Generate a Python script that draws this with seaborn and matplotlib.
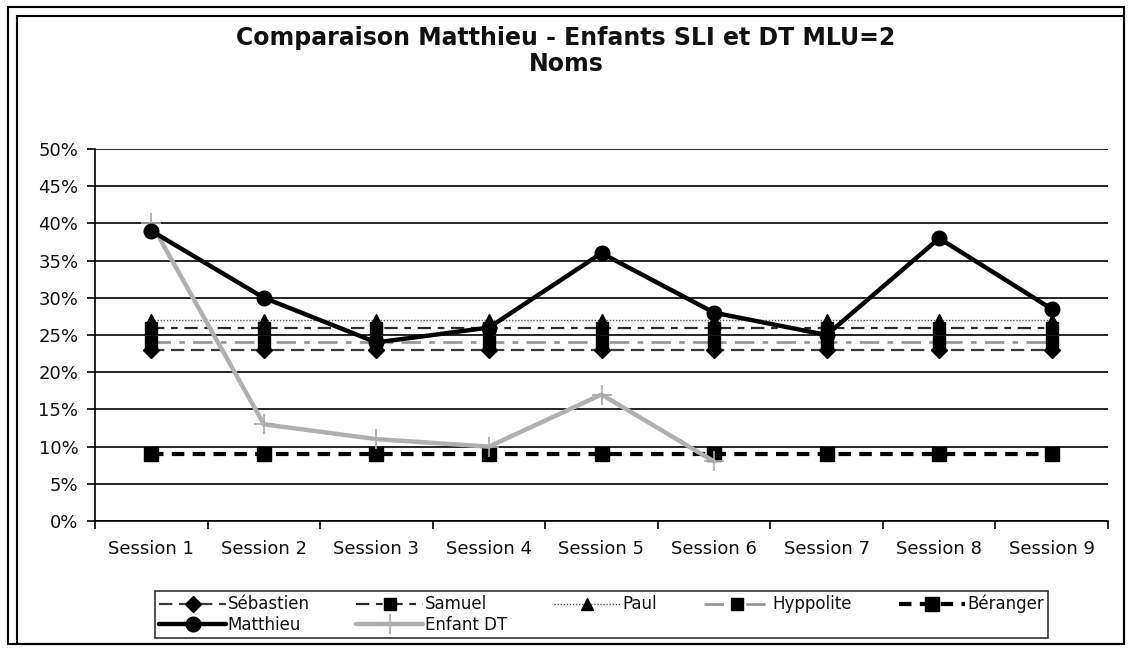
import numpy as np
import pandas as pd
import matplotlib
matplotlib.use("Agg")
import matplotlib.pyplot as plt
import seaborn as sns
from matplotlib.patches import Rectangle
from matplotlib.ticker import FixedLocator, PercentFormatter

sessions = ["Session 1", "Session 2", "Session 3", "Session 4", "Session 5",
            "Session 6", "Session 7", "Session 8", "Session 9"]
sebastien = [23, 23, 23, 23, 23, 23, 23, 23, 23]
samuel = [26, 26, 26, 26, 26, 26, 26, 26, 26]
paul = [27, 27, 27, 27, 27, 27, 27, 27, 27]
hyppolite = [24, 24, 24, 24, 24, 24, 24, 24, 24]
beranger = [9, 9, 9, 9, 9, 9, 9, 9, 9]
matthieu = [39, 30, 24, 26, 36, 28, 25, 38, 28.5]
enfant_dt = [40, 13, 11, 10, 17, 8, np.nan, np.nan, np.nan]
yticks = [0, 5, 10, 15, 20, 25, 30, 35, 40, 45, 50]

sns.set_theme(style="white")
plt.rcParams["font.family"] = ["DejaVu Sans"]

fig = plt.figure(figsize=(11.29, 6.48), dpi=100)
ax = fig.add_axes([95 / 1129, 1 - 521 / 648, (1108 - 95) / 1129, (521 - 149) / 648])

series = [
    ("Sébastien", sebastien, dict(color="#3a3a3a", lw=1.6, dashes=(6, 3), marker="D", ms=8,
                                  mfc="black", mec="black")),
    ("Matthieu", matthieu, dict(color="black", lw=3.2, marker="o", ms=10.5, mfc="black",
                                mec="black", dashes=(None, None))),
    ("Samuel", samuel, dict(color="#2a2a2a", lw=1.6, dashes=(6, 3, 3, 3), marker="s", ms=8,
                            mfc="black", mec="black")),
    ("Enfant DT", enfant_dt, dict(color="#b0b0b0", lw=3.2, marker="+", ms=14, mew=1.2,
                                  mfc="#aaaaaa", mec="#aaaaaa")),
    ("Paul", paul, dict(color="#555555", lw=1.0, dashes=(1, 1.2), marker="^", ms=9,
                        mfc="black", mec="black")),
    ("Hyppolite", hyppolite, dict(color="#999999", lw=2.0, dashes=(7, 3, 2, 3), marker="s",
                                  ms=8, mfc="black", mec="black")),
    ("Béranger", beranger, dict(color="black", lw=3.0, dashes=(3, 2), marker="s", ms=10,
                                mfc="black", mec="black")),
]

order_draw = ["Sébastien", "Samuel", "Paul", "Hyppolite", "Béranger", "Enfant DT", "Matthieu"]
handles = {}
for name in order_draw:
    vals, kw = [(v, k) for n, v, k in series if n == name][0]
    df = pd.DataFrame({"session": sessions, "val": vals}).dropna()
    kw = dict(kw)
    dashes = kw.pop("dashes", None)
    sns.lineplot(data=df, x="session", y="val", ax=ax, sort=False, label=name,
                 markeredgewidth=kw.pop("mew", 1.0), **kw)
    line = ax.get_lines()[-1]
    if dashes is not None and dashes[0] is not None:
        line.set_dashes(dashes)
    handles[name] = line

ax.set_xlim(-0.5, 8.5)
ax.set_ylim(0, 50)
ax.set_yticks(yticks)
ax.yaxis.set_major_formatter(PercentFormatter(decimals=0))
ax.grid(axis="y", color="black", lw=1.2)
ax.set_axisbelow(True)
ax.set_xlabel("")
ax.set_ylabel("")
for s in ["top", "right"]:
    ax.spines[s].set_visible(False)
for s in ["left", "bottom"]:
    ax.spines[s].set_color("black")
    ax.spines[s].set_linewidth(1.2)
ax.tick_params(axis="y", which="major", length=6, width=1.2, color="black", direction="out",
               left=True, labelsize=13, pad=6, labelcolor="#111111")
ax.tick_params(axis="x", which="major", length=0, labelsize=13, pad=14, labelcolor="#111111")
ax.xaxis.set_minor_locator(FixedLocator(np.arange(-0.5, 9.0, 1.0)))
ax.tick_params(axis="x", which="minor", length=6, width=1.2, color="black", direction="out",
               bottom=True)

if ax.legend_:
    ax.legend_.remove()
leg_order = ["Sébastien", "Matthieu", "Samuel", "Enfant DT", "Paul", "Hyppolite", "Béranger"]
leg = fig.legend([handles[n] for n in leg_order], leg_order, ncol=5,
                 loc="lower left", bbox_to_anchor=(155 / 1129, 1 - 638 / 648, (1048 - 155) / 1129, 50 / 648),
                 mode="expand", frameon=True, fancybox=False, fontsize=12, handlelength=4,
                 borderpad=0.25, labelspacing=0.15, handletextpad=0.1, borderaxespad=0)
leg.get_frame().set_edgecolor("black")
leg.get_frame().set_linewidth(1.2)
for t in leg.get_texts():
    t.set_color("#111111")

fig.text(566 / 1129, 1 - 38 / 648, "Comparaison Matthieu - Enfants SLI et DT MLU=2",
         ha="center", va="center", fontsize=17, fontweight="bold", color="#111111")
fig.text(566 / 1129, 1 - 64 / 648, "Noms", ha="center", va="center", fontsize=17,
         fontweight="bold", color="#111111")

fig.patches.append(Rectangle((8 / 1129, 1 - 644 / 648), (1124 - 8) / 1129, (644 - 7) / 648,
                             transform=fig.transFigure, fill=False, ec="black", lw=1.5))
fig.patches.append(Rectangle((17 / 1129, 1 - 644 / 648), (1124 - 17) / 1129, (644 - 16) / 648,
                             transform=fig.transFigure, fill=False, ec="black", lw=1.5))

fig.savefig("out.png", dpi=100)
